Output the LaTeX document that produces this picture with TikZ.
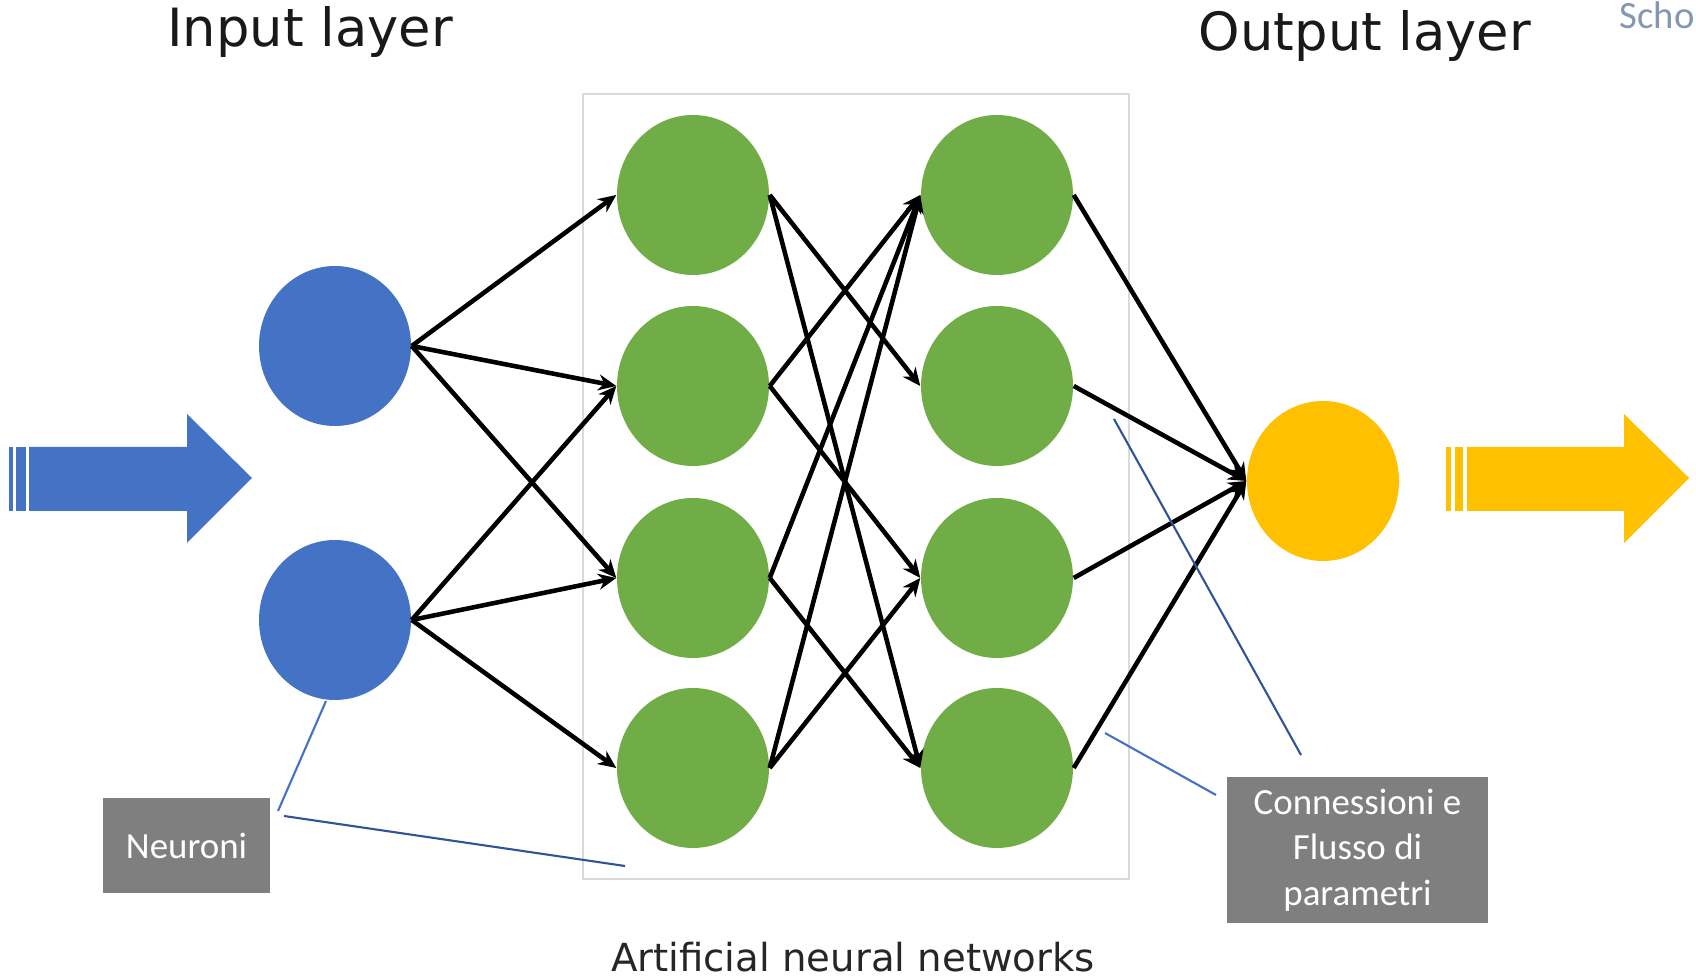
\documentclass[tikz,border=0pt]{standalone}
\usepackage{fontspec}
\setmainfont{DejaVu Sans}
\newfontfamily\calibri{Carlito}
\usetikzlibrary{shapes.geometric,arrows.meta}
\definecolor{inblue}{HTML}{4472C4}
\definecolor{hidgreen}{HTML}{70AD47}
\definecolor{outyellow}{HTML}{FFC000}
\definecolor{boxgray}{HTML}{7F7F7F}
\definecolor{navyline}{HTML}{2F5597}
\definecolor{schoblue}{HTML}{8497B0}
\definecolor{framegray}{HTML}{DADADA}

\begin{document}
\begin{tikzpicture}[x=0.1mm,y=-0.1mm]
  \tikzstyle{neuron}=[ellipse,minimum width=15.2mm,minimum height=16mm,inner sep=0pt]
  \tikzstyle{conn}=[line width=1.3pt,-{Stealth[length=1.8mm,width=1.6mm]}]
  \tikzstyle{callout}=[line width=0.6pt]
  \tikzstyle{graybox}=[fill=boxgray,text=white,font=\calibri\fontsize{10.5}{12.9}\selectfont,align=center,inner sep=0pt]
  \tikzstyle{layerlab}=[font=\fontsize{15}{18}\selectfont,text=black!90]
  \useasboundingbox (0,0) rectangle (1696,979);
  \draw[framegray,line width=0.6pt] (583,94) rectangle (1129,879);
  \foreach \n / \y in {1/346,2/620}
     \node[neuron,fill=inblue] (i\n) at (335,\y) {};
  \foreach \n / \y in {1/195,2/386,3/578,4/768} {
     \node[neuron,fill=hidgreen] (h\n) at (693,\y) {};
     \node[neuron,fill=hidgreen] (k\n) at (997,\y) {};
  }
  \node[neuron,fill=outyellow] (o) at (1323,481) {};
  \foreach \a / \b in {i1/h1,i1/h2,i1/h3,i2/h2,i2/h3,i2/h4,h1/k2,h1/k4,h2/k1,h2/k3,h3/k1,h3/k4,h4/k1,h4/k3,k1/o,k2/o,k3/o,k4/o}
     \draw[conn] (\a.east) -- (\b.west);
  \fill[inblue] (29,447) -- (187,447) -- (187,414) -- (252,478) -- (187,543) -- (187,511) -- (29,511) -- cycle;
  \fill[inblue] (9,447) rectangle (13,511);
  \fill[inblue] (16,447) rectangle (26,511);
  \fill[outyellow] (1467,447) -- (1624,447) -- (1624,414) -- (1689,478) -- (1624,543) -- (1624,511) -- (1467,511) -- cycle;
  \fill[outyellow] (1446,447) rectangle (1451,511);
  \fill[outyellow] (1455,447) rectangle (1463,511);
  \node[layerlab] (inlab) at (310,32) {Input layer};
  \node[layerlab] (outlab) at (1365,36) {Output layer};
  \node[font=\fontsize{11}{13}\selectfont,text=black!85] (annlab) at (853,957) {Artificial neural networks};
  \node[anchor=base west,inner sep=0pt,font=\calibri\fontsize{11}{13}\selectfont,text=schoblue] (scho) at (1619,29) {Scho};
  \node[graybox,minimum width=16.7mm,minimum height=9.5mm] (neur) at (186.5,845.5) {Neuroni};
  \node[graybox,minimum width=26.1mm,minimum height=14.6mm] (flux) at (1357.5,850) {Connessioni e\\Flusso di\\parametri};
  \coordinate (n1) at (278,811);
  \coordinate (n2) at (284,816);
  \coordinate (ni) at (326,701);
  \coordinate (nh) at (625,866);
  \coordinate (c1) at (1301,755);
  \coordinate (c2) at (1216,795);
  \coordinate (ca) at (1114,419);
  \coordinate (cb) at (1105,733);
  \draw[callout,inblue] (n1) -- (ni);
  \draw[callout,navyline] (n2) -- (nh);
  \draw[callout,navyline] (c1) -- (ca);
  \draw[callout,inblue] (c2) -- (cb);
\end{tikzpicture}
\end{document}
